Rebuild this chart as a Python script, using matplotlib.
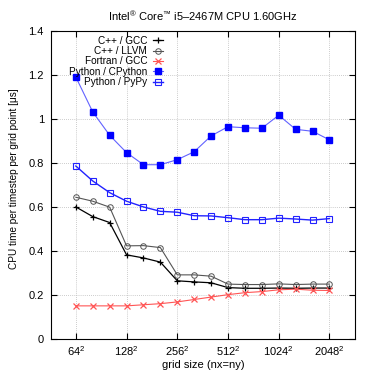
import matplotlib
matplotlib.use("Agg")
import matplotlib.pyplot as plt
import numpy as np

plt.rcParams['font.family'] = ['Liberation Sans', 'DejaVu Sans']
plt.rcParams['mathtext.fontset'] = 'custom'
plt.rcParams['mathtext.rm'] = 'Liberation Sans'
plt.rcParams['mathtext.it'] = 'Liberation Sans'

# grid sizes nx = 64 * 2^(k/3), k = 0..15
grid_exp = [6 + k / 3 for k in range(16)]
tick_sizes = [64, 128, 256, 512, 1024, 2048]
tick_labels = ["64$^2$", "128$^2$", "256$^2$", "512$^2$", "1024$^2$", "2048$^2$"]

cpp_gcc = [0.600, 0.556, 0.529, 0.382, 0.368, 0.349, 0.264, 0.259, 0.255,
           0.233, 0.230, 0.230, 0.231, 0.230, 0.231, 0.231]
cpp_llvm = [0.644, 0.626, 0.599, 0.423, 0.424, 0.415, 0.291, 0.291, 0.285,
            0.249, 0.247, 0.247, 0.250, 0.247, 0.249, 0.249]
fortran_gcc = [0.150, 0.150, 0.150, 0.150, 0.155, 0.160, 0.168, 0.179, 0.190,
               0.201, 0.210, 0.215, 0.223, 0.226, 0.221, 0.220]
python_cpython = [1.191, 1.032, 0.926, 0.847, 0.792, 0.792, 0.815, 0.851, 0.923,
                  0.965, 0.960, 0.958, 1.017, 0.953, 0.944, 0.905]
python_pypy = [0.786, 0.718, 0.665, 0.626, 0.600, 0.580, 0.576, 0.560, 0.559,
               0.551, 0.542, 0.542, 0.549, 0.545, 0.540, 0.547]

x = [2 ** e for e in grid_exp]

fig = plt.figure(figsize=(3.74, 3.74), dpi=100)
ax = fig.add_axes([0.136, 0.094, 0.813, 0.823])

fs = 8
ax.plot(x, cpp_gcc, color='black', lw=0.9, marker='+', ms=5, mew=0.9, label='C++ / GCC')
ax.plot(x, cpp_llvm, color='#555555', lw=0.8, marker='o', ms=4, mfc='none', mew=0.7, label='C++ / LLVM')
ax.plot(x, fortran_gcc, color='#ff5555', lw=0.8, marker='x', ms=4, mew=0.9, label='Fortran / GCC')
ax.plot(x, python_cpython, color='#6262ff', lw=0.8, marker='s', ms=4.2, mfc='#0000ff', mec='#0000ff', label='Python / CPython')
ax.plot(x, python_pypy, color='#2222ff', lw=1.0, marker='s', ms=4.5, mfc='none', mec='#2222ff', mew=0.8, label='Python / PyPy')

ax.set_xscale('log', base=2)
ax.set_xlim(45.5, 2900)
ax.set_ylim(0, 1.4)
ax.set_xticks(tick_sizes)
ax.set_xticklabels(tick_labels, fontsize=fs)
ax.xaxis.set_minor_locator(matplotlib.ticker.NullLocator())
yt = [0, 0.2, 0.4, 0.6, 0.8, 1.0, 1.2, 1.4]
ax.set_yticks(yt)
ax.set_yticklabels(["0", "0.2", "0.4", "0.6", "0.8", "1", "1.2", "1.4"], fontsize=fs)
ax.tick_params(axis='x', direction='in', top=True, length=4, width=0.8, pad=4)
ax.tick_params(axis='y', direction='in', right=True, length=4, width=0.8, pad=5)
ax.grid(True, color='#bbbbbb', linestyle=(0, (1, 1.5)), linewidth=0.6)
for s in ax.spines.values():
    s.set_linewidth(0.8)

ax.set_xlabel('grid size (nx=ny)', fontsize=fs, labelpad=1)
ax.set_ylabel('CPU time per timestep per grid point [μs]', fontsize=7.2)
ax.yaxis.set_label_coords(-0.105, 0.52)
ax.set_title('Intel$^{®}$ Core$^{™}$ i5–2467M CPU 1.60GHz', fontsize=fs, pad=7)

leg = ax.legend(loc='upper right', bbox_to_anchor=(0.37, 0.985), markerfirst=False,
                frameon=False, fontsize=7.2, handlelength=1.0, handletextpad=0.6,
                labelspacing=0.04, borderaxespad=0.0, borderpad=0.0)
for t in leg.get_texts():
    t.set_ha('right')
leg._legend_box.align = 'right'

fig.savefig('out.png', dpi=100)
